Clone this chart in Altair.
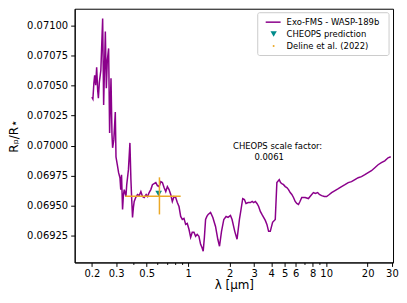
import altair as alt
import pandas as pd

# ---- data ----
wavelength = [
    0.2000, 0.2034, 0.2067, 0.2095, 0.2130, 0.2166, 0.2203, 0.2229, 0.2266, 0.2323,
    0.2394, 0.2434, 0.2462, 0.2504, 0.2546, 0.2588, 0.2645, 0.2689, 0.2752, 0.2798,
    0.2827, 0.2884, 0.2957, 0.2991, 0.3057, 0.3124, 0.3196, 0.3239, 0.3282, 0.3338,
    0.3388, 0.3433, 0.3532, 0.3579, 0.3627, 0.3682, 0.3775, 0.3838, 0.3890, 0.3942,
    0.4001, 0.4054, 0.4157, 0.4283, 0.4406, 0.4532, 0.4655, 0.4788, 0.4950, 0.5075,
    0.5203, 0.5352, 0.5497, 0.5654, 0.5816, 0.5974, 0.6144, 0.6320, 0.6492, 0.6677,
    0.6868, 0.7054, 0.7255, 0.7462, 0.7664, 0.7884, 0.8110, 0.8329, 0.8567, 0.8813,
    0.9052, 0.9311, 0.9576, 0.9835, 1.0118, 1.0407, 1.0688, 1.0995, 1.1309, 1.1614,
    1.1948, 1.2289, 1.2558, 1.2833, 1.3092, 1.3355, 1.3646, 1.3945, 1.4511, 1.5077,
    1.5768, 1.6383, 1.6854, 1.7426, 1.8105, 1.8810, 1.9446, 2.0236, 2.0784, 2.1738,
    2.2586, 2.3504, 2.4141, 2.4829, 2.5541, 2.6232, 2.7210, 2.8220, 2.9077, 2.9815,
    3.0665, 3.1495, 3.2399, 3.3323, 3.4226, 3.5208, 3.6212, 3.7191, 3.8260, 3.9351,
    4.0892, 4.2759, 4.3917, 4.5704, 4.6704, 4.7728, 4.9091, 5.0493, 5.1860, 5.3350,
    5.4881, 5.6365, 5.7982, 5.9642, 6.1250, 6.3010, 6.4600, 6.6566, 7.0424, 7.4388,
    7.7536, 8.0827, 8.3560, 8.6812, 8.9305, 9.2779, 9.7050, 10.083, 10.546, 10.958,
    11.595, 12.248, 12.938, 13.692, 14.464, 15.279, 16.170, 17.081, 18.043, 19.095,
    20.171, 21.307, 22.547, 23.818, 25.159, 26.624, 28.128, 29.417,
]
radius_ratio = [
    0.070403, 0.070387, 0.070519, 0.070586, 0.070503, 0.070652, 0.070461, 0.070395, 0.070528, 0.070627,
    0.071058, 0.070337, 0.070586, 0.070950, 0.070478, 0.070710, 0.070809, 0.070105, 0.070561, 0.070089,
    0.069981, 0.070047, 0.070279, 0.069906, 0.069840, 0.069774, 0.069732, 0.069633, 0.069757, 0.069467,
    0.069592, 0.069633, 0.069575, 0.069674, 0.069732, 0.069799, 0.070022, 0.069716, 0.069550, 0.069401,
    0.069484, 0.069534, 0.069567, 0.069592, 0.069583, 0.069616, 0.069575, 0.069567, 0.069592, 0.069575,
    0.069608, 0.069633, 0.069674, 0.069683, 0.069691, 0.069666, 0.069658, 0.069699, 0.069691, 0.069650,
    0.069616, 0.069658, 0.069633, 0.069592, 0.069534, 0.069575, 0.069567, 0.069525, 0.069492, 0.069409,
    0.069384, 0.069393, 0.069343, 0.069351, 0.069302, 0.069235, 0.069277, 0.069277, 0.069244, 0.069260,
    0.069244, 0.069177, 0.069152, 0.069119, 0.069235, 0.069384, 0.069409, 0.069426, 0.069442, 0.069401,
    0.069326, 0.069219, 0.069161, 0.069285, 0.069384, 0.069409, 0.069401, 0.069418, 0.069384, 0.069285,
    0.069219, 0.069384, 0.069467, 0.069558, 0.069550, 0.069517, 0.069525, 0.069525, 0.069534, 0.069525,
    0.069534, 0.069517, 0.069492, 0.069451, 0.069426, 0.069401, 0.069376, 0.069343, 0.069285, 0.069285,
    0.069360, 0.069384, 0.069691, 0.069716, 0.069691, 0.069683, 0.069674, 0.069658, 0.069650, 0.069633,
    0.069608, 0.069592, 0.069567, 0.069534, 0.069517, 0.069509, 0.069534, 0.069567, 0.069567, 0.069558,
    0.069583, 0.069608, 0.069600, 0.069608, 0.069592, 0.069583, 0.069575, 0.069575, 0.069592, 0.069608,
    0.069625, 0.069641, 0.069658, 0.069674, 0.069691, 0.069699, 0.069716, 0.069732, 0.069741, 0.069757,
    0.069774, 0.069790, 0.069815, 0.069840, 0.069857, 0.069873, 0.069898, 0.069906,
]

cheops_wl = [0.61]
cheops_rp = [0.069600]

deline_wl = [0.618]
deline_wl_lo = [0.349]
deline_wl_hi = [0.881]
deline_rp = [0.069577]
deline_rp_lo = [0.069426]
deline_rp_hi = [0.069735]

x_major = [0.2, 0.3, 0.5, 1, 2, 3, 4, 5, 6, 8, 10, 20, 30]
x_minor = [0.4, 0.6, 0.7, 0.8, 0.9, 7, 9]
y_ticks = [0.06925, 0.06950, 0.06975, 0.07000, 0.07025, 0.07050, 0.07075, 0.07100]

legend_labels = ["Exo-FMS - WASP-189b", "CHEOPS prediction", "Deline et al. (2022)"]
annotation_lines = ["CHEOPS scale factor:", "0.0061"]

PURPLE = "#8B008B"
TEAL = "#008B8B"
ORANGE = "#EBA827"
FONT = "DejaVu Sans"

line_df = pd.DataFrame({"wl": wavelength, "rp": radius_ratio})
cheops_df = pd.DataFrame({"wl": cheops_wl, "rp": cheops_rp})
deline_df = pd.DataFrame({
    "wl": deline_wl, "wl_lo": deline_wl_lo, "wl_hi": deline_wl_hi,
    "rp": deline_rp, "rp_lo": deline_rp_lo, "rp_hi": deline_rp_hi,
})
one = pd.DataFrame({"k": [0]})

xscale = alt.Scale(type="log", domain=[0.15, 30.56], nice=False)
yscale = alt.Scale(domain=[0.069026, 0.071140], nice=False, zero=False)

minor_list = "[" + ",".join(str(v) for v in x_minor) + "]"
is_minor = f"indexof({minor_list}, datum.value) >= 0"

x_axis = alt.Axis(values=x_major + x_minor, format="~g", title="λ [μm]", grid=False,
                  tickSize=alt.condition(is_minor, alt.value(2), alt.value(4)),
                  labelExpr=f"{is_minor} ? '' : datum.label",
                  labelPadding=2, labelFontSize=10, titleFontSize=12,
                  titleFontWeight="normal", titleY=22, titleBaseline="middle",
                  labelFlush=False, labelOverlap=False)
y_axis = alt.Axis(values=y_ticks, format=".5f", title="Rₚ/R⋆", grid=False,
                  tickSize=4, labelPadding=3, labelFontSize=10, titleFontSize=12,
                  titleFontWeight="normal", titlePadding=6, labelOverlap=False,
                  labelFlush=False, labelSeparation=0)

spectrum = alt.Chart(line_df).mark_line(color=PURPLE, strokeWidth=1.5, clip=True).encode(
    x=alt.X("wl:Q", scale=xscale, axis=x_axis),
    y=alt.Y("rp:Q", scale=yscale, axis=y_axis),
)

cheops = alt.Chart(cheops_df).mark_point(shape="triangle-down", filled=True, color=TEAL,
                                          size=45, opacity=1).encode(
    x=alt.X("wl:Q", scale=xscale, axis=x_axis), y=alt.Y("rp:Q", scale=yscale, axis=y_axis))

err_h = alt.Chart(deline_df).mark_rule(color=ORANGE, strokeWidth=1.5).encode(
    x=alt.X("wl_lo:Q", scale=xscale, axis=x_axis), x2="wl_hi:Q",
    y=alt.Y("rp:Q", scale=yscale, axis=y_axis))
err_v = alt.Chart(deline_df).mark_rule(color=ORANGE, strokeWidth=1.5).encode(
    x=alt.X("wl:Q", scale=xscale, axis=x_axis),
    y=alt.Y("rp_lo:Q", scale=yscale, axis=y_axis), y2="rp_hi:Q")

# legend (drawn by hand to mix a line, a triangle and a dot)
leg_box = alt.Chart(one).mark_rect(fill="white", fillOpacity=0.8, stroke="#cccccc",
                                   strokeWidth=1, cornerRadius=2).encode(
    x=alt.value(184), x2=alt.value(316), y=alt.value(4), y2=alt.value(47))
leg_line = alt.Chart(one).mark_rule(color=PURPLE, strokeWidth=1.5).encode(
    x=alt.value(192), x2=alt.value(207), y=alt.value(13.5))
leg_tri = alt.Chart(one).mark_point(shape="triangle-down", filled=True, color=TEAL,
                                     size=40, opacity=1).encode(
    x=alt.value(200), y=alt.value(25.5))
leg_dot = alt.Chart(one).mark_circle(color=ORANGE, size=4, opacity=1).encode(
    x=alt.value(200), y=alt.value(37.5))
leg_texts = [
    alt.Chart(one).mark_text(align="left", baseline="middle", fontSize=8.5, font=FONT,
                             color="black").encode(
        x=alt.value(213), y=alt.value(yy), text=alt.value(lab))
    for lab, yy in zip(legend_labels, [13.5, 25.5, 37.5])
]

ann1 = alt.Chart(one).mark_text(align="center", baseline="middle", fontSize=8.5,
                                font=FONT, color="black").encode(
    x=alt.value(204), y=alt.value(137.5), text=alt.value(annotation_lines[0]))
ann2 = alt.Chart(one).mark_text(align="center", baseline="middle", fontSize=8.5,
                                font=FONT, color="black").encode(
    x=alt.value(195.5), y=alt.value(149.5), text=alt.value(annotation_lines[1]))

chart = alt.layer(
    spectrum, cheops, err_h, err_v,
    leg_box, leg_line, leg_tri, leg_dot, *leg_texts, ann1, ann2,
).properties(
    width=320, height=255,
    padding={"left": 67, "top": 0, "right": 6, "bottom": 30},
    autosize=alt.AutoSizeParams(type="none"),
).configure_view(stroke="black", strokeWidth=1).configure_axis(
    labelFont=FONT, titleFont=FONT, labelColor="black", titleColor="black",
    tickColor="black", domainColor="black", domainWidth=1, tickWidth=1,
).configure_axisY(labelOverlap=False).configure_text(font=FONT)

chart.save("out.html", embed_options={"renderer": "svg", "actions": False})
